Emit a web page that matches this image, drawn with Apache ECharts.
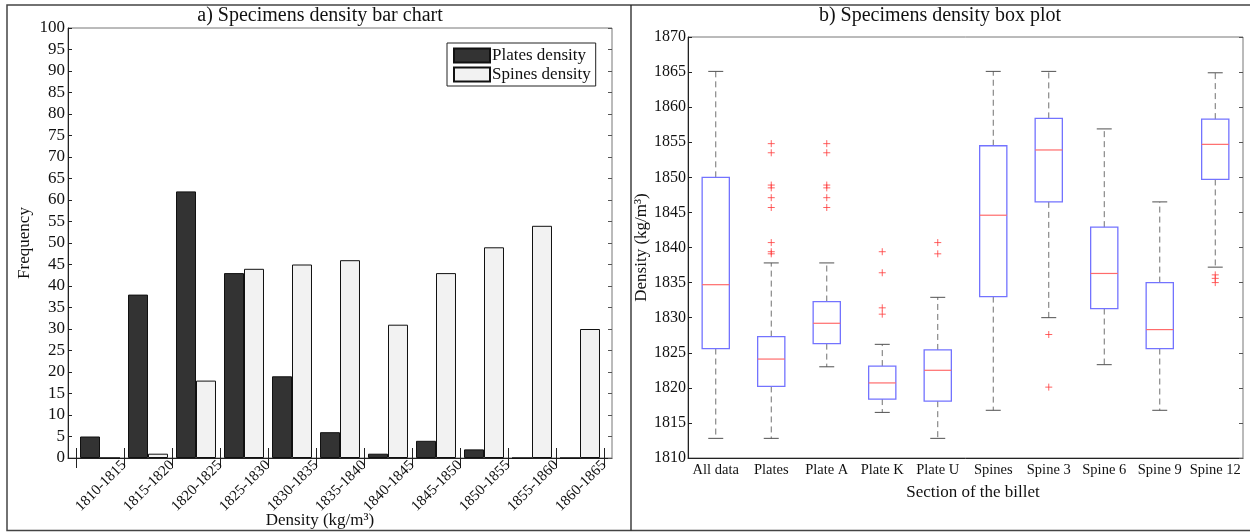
<!DOCTYPE html>
<html><head><meta charset="utf-8">
<script src="https://cdn.jsdelivr.net/npm/echarts@6/dist/echarts.min.js"></script>
<style>html,body{margin:0;padding:0;background:#fff}#c{width:1250px;height:532px}</style>
</head><body><div id="c"></div>
<script>
// ---- Data: a) bar chart ----
const densityBins = ['1810-1815','1815-1820','1820-1825','1825-1830','1830-1835','1835-1840','1840-1845','1845-1850','1850-1855','1855-1860','1860-1865'];
const platesDensity = [5, 38, 62, 43, 19, 6, 1, 4, 2, 0, 0];
const spinesDensity = [0, 1, 18, 44, 45, 46, 31, 43, 49, 54, 30];
const freqMin = 0, freqMax = 100, freqStep = 5;

// ---- Data: b) box plot ----
const sections = ['All data','Plates','Plate A','Plate K','Plate U','Spines','Spine 3','Spine 6','Spine 9','Spine 12'];
const whiskerLow  = [1812.8, 1812.8, 1823.0, 1816.5, 1812.8, 1816.8, 1830.0, 1823.3, 1816.8, 1837.2];
const quartile1   = [1825.6, 1820.2, 1826.3, 1818.4, 1818.1, 1833.0, 1846.5, 1831.3, 1825.6, 1849.7];
const medians     = [1834.7, 1824.1, 1829.2, 1820.7, 1822.5, 1844.6, 1853.9, 1836.3, 1828.3, 1854.7];
const quartile3   = [1850.0, 1827.3, 1832.3, 1823.1, 1825.4, 1854.5, 1858.4, 1842.9, 1835.0, 1858.3];
const whiskerHigh = [1865.1, 1837.8, 1837.8, 1826.2, 1832.9, 1865.1, 1865.1, 1856.9, 1846.5, 1864.9];
const outlierValues = [
  [],
  [1854.8, 1853.5, 1848.9, 1848.5, 1847.1, 1845.7, 1840.7, 1839.4, 1839.1],
  [1854.8, 1853.5, 1848.9, 1848.5, 1847.1, 1845.7],
  [1839.4, 1836.4, 1831.4, 1830.5],
  [1840.7, 1839.1],
  [],
  [1827.6, 1820.1],
  [],
  [],
  [1836.1, 1835.6, 1835.0]
];
const densMin = 1810, densMax = 1870, densStep = 5;

const FONT = "'Liberation Serif','DejaVu Serif',serif";
const boxData = sections.map((s, i) => [i, whiskerLow[i], quartile1[i], medians[i], quartile3[i], whiskerHigh[i]]);
const outlierData = [];
outlierValues.forEach((arr, i) => arr.forEach(v => outlierData.push([i, v])));

function renderBox(params, api) {
  const idx = api.value(0);
  const pLow = api.coord([idx, api.value(1)]);
  const pQ1 = api.coord([idx, api.value(2)]);
  const pMed = api.coord([idx, api.value(3)]);
  const pQ3 = api.coord([idx, api.value(4)]);
  const pHigh = api.coord([idx, api.value(5)]);
  const band = api.size([1, 0])[0];
  const hw = band * 0.245, cw = band * 0.135;
  const x = pMed[0];
  const dash = {stroke: '#707070', lineWidth: 1, lineDash: [6, 4], fill: null};
  const cap = {stroke: '#505050', lineWidth: 1, fill: null};
  return {type: 'group', children: [
    {type: 'line', shape: {x1: x, y1: pQ3[1], x2: x, y2: pHigh[1]}, style: dash},
    {type: 'line', shape: {x1: x, y1: pQ1[1], x2: x, y2: pLow[1]}, style: dash},
    {type: 'line', shape: {x1: x - cw, y1: pHigh[1], x2: x + cw, y2: pHigh[1]}, style: cap},
    {type: 'line', shape: {x1: x - cw, y1: pLow[1], x2: x + cw, y2: pLow[1]}, style: cap},
    {type: 'rect', shape: {x: x - hw, y: pQ3[1], width: 2 * hw, height: pQ1[1] - pQ3[1]},
      style: {fill: 'none', stroke: '#7373ff', lineWidth: 1.3}},
    {type: 'line', shape: {x1: x - hw, y1: pMed[1], x2: x + hw, y2: pMed[1]},
      style: {stroke: '#ff6b6b', lineWidth: 1.2}}
  ]};
}

const chart = echarts.init(document.getElementById('c'));
const plain = v => String(v);
const labelStyle = {fontFamily: FONT, fontSize: 16, color: '#111', formatter: plain};
const option = {
  animation: false,
  textStyle: {fontFamily: FONT},
  grid: [
    {left: 68, top: 28, width: 544, height: 430, show: true, borderColor: '#777', borderWidth: 1, outerBoundsMode: 'none', containLabel: false},
    {left: 76, top: 28, width: 528, height: 430, outerBoundsMode: 'none', containLabel: false},
    {left: 688, top: 37, width: 555, height: 421, show: true, borderColor: '#777', borderWidth: 1, outerBoundsMode: 'none', containLabel: false}
  ],
  legend: {
    data: ['Plates density', 'Spines density'],
    orient: 'vertical', left: 447, top: 43,
    itemWidth: 36, itemHeight: 14, itemGap: 2,
    padding: [4, 5, 3, 6],
    borderColor: '#222', borderWidth: 1, backgroundColor: '#fff',
    icon: 'rect',
    textStyle: {fontFamily: FONT, fontSize: 17, color: '#111', padding: [0, 0, 0, -3]}
  },
  xAxis: [
    {gridIndex: 0, type: 'value', position: 'bottom', min: 0, max: 1, axisLine: {show: true, lineStyle: {color: '#222'}},
      axisTick: {show: false}, axisLabel: {show: false}, splitLine: {show: false}},
    {gridIndex: 1, type: 'category', position: 'bottom', data: densityBins, boundaryGap: true,
      axisLine: {show: false}, axisTick: {show: false}, axisLabel: {show: false}},
    {gridIndex: 1, type: 'category', position: 'bottom', data: [''].concat(densityBins), boundaryGap: false,
      axisLine: {show: false},
      axisTick: {show: true, inside: false, length: 10, interval: 0, lineStyle: {color: '#222'}},
      axisLabel: {show: true, interval: 0, rotate: 45, margin: 5, fontFamily: FONT, fontSize: 15, color: '#111'}},
    {gridIndex: 1, type: 'category', position: 'bottom', data: [''].concat(densityBins), boundaryGap: false,
      axisLine: {show: false},
      axisTick: {show: true, inside: true, length: 10, interval: 0, lineStyle: {color: '#222'}},
      axisLabel: {show: false}},
    {gridIndex: 2, type: 'category', position: 'bottom', data: sections, boundaryGap: true,
      axisLine: {show: true, lineStyle: {color: '#222'}}, axisTick: {show: false},
      axisLabel: {interval: 0, margin: 5, fontFamily: FONT, fontSize: 14.5, color: '#111'}}
  ],
  yAxis: [
    {gridIndex: 0, type: 'value', position: 'left', min: freqMin, max: freqMax, interval: freqStep,
      axisLine: {show: true, lineStyle: {color: '#222'}},
      axisTick: {show: true, inside: true, length: 4, lineStyle: {color: '#222'}},
      axisLabel: Object.assign({margin: 3}, labelStyle, {fontSize: 17}), splitLine: {show: false},
      name: 'Frequency', nameLocation: 'middle', nameGap: 35,
      nameTextStyle: {fontFamily: FONT, fontSize: 17, color: '#111'}},
    {gridIndex: 0, type: 'value', position: 'right', min: freqMin, max: freqMax, interval: freqStep,
      axisLine: {show: false}, axisTick: {show: true, inside: true, length: 4, lineStyle: {color: '#555'}},
      axisLabel: {show: false}, splitLine: {show: false}},
    {gridIndex: 1, type: 'value', position: 'left', min: freqMin, max: freqMax, interval: freqStep,
      axisLine: {show: false}, axisTick: {show: false}, axisLabel: {show: false}, splitLine: {show: false}},
    {gridIndex: 2, type: 'value', position: 'left', min: densMin, max: densMax, interval: densStep,
      axisLine: {show: true, lineStyle: {color: '#222'}},
      axisTick: {show: true, inside: true, length: 4, lineStyle: {color: '#222'}},
      axisLabel: Object.assign({margin: 2}, labelStyle), splitLine: {show: false},
      name: 'Density (kg/m³)', nameLocation: 'middle', nameGap: 36,
      nameTextStyle: {fontFamily: FONT, fontSize: 17, color: '#111'}},
    {gridIndex: 2, type: 'value', position: 'right', min: densMin, max: densMax, interval: densStep,
      axisLine: {show: false}, axisTick: {show: true, inside: true, length: 4, lineStyle: {color: '#555'}},
      axisLabel: {show: false}, splitLine: {show: false}}
  ],
  series: [
    {name: 'Plates density', type: 'bar', xAxisIndex: 1, yAxisIndex: 2, data: platesDensity,
      barGap: '0%', barCategoryGap: '16.7%',
      itemStyle: {color: '#333333', borderColor: '#111', borderWidth: 1}},
    {name: 'Spines density', type: 'bar', xAxisIndex: 1, yAxisIndex: 2, data: spinesDensity,
      barGap: '0%', barCategoryGap: '16.7%',
      itemStyle: {color: '#f2f2f2', borderColor: '#111', borderWidth: 1}},
    {name: 'box', type: 'custom', xAxisIndex: 4, yAxisIndex: 3, data: boxData,
      encode: {x: 0, y: [1, 2, 3, 4, 5]}, renderItem: renderBox, z: 3},
    {name: 'outliers', type: 'scatter', xAxisIndex: 4, yAxisIndex: 3, data: outlierData,
      symbol: 'path://M5,0L5,10M0,5L10,5', symbolSize: 7,
      itemStyle: {color: 'none', borderColor: '#ff3b3b', borderWidth: 1}, z: 4}
  ],
  graphic: [
    {type: 'polyline', shape: {points: [[1250, 5], [7, 5], [7, 530.5], [1250, 530.5]]},
      style: {stroke: '#444', lineWidth: 1.5, fill: null}, silent: true},
    {type: 'line', shape: {x1: 631, y1: 5, x2: 631, y2: 530.5},
      style: {stroke: '#222', lineWidth: 1.3}, silent: true},
    {type: 'text', x: 320, y: 16, silent: true,
      style: {text: 'a) Specimens density bar chart', fontFamily: FONT, fontSize: 20, fill: '#111', align: 'center', verticalAlign: 'middle'}},
    {type: 'text', x: 940, y: 16, silent: true,
      style: {text: 'b) Specimens density box plot', fontFamily: FONT, fontSize: 20, fill: '#111', align: 'center', verticalAlign: 'middle'}},
    {type: 'text', x: 320, y: 521, silent: true,
      style: {text: 'Density (kg/m³)', fontFamily: FONT, fontSize: 17, fill: '#111', align: 'center', verticalAlign: 'middle'}},
    {type: 'text', x: 973, y: 493, silent: true,
      style: {text: 'Section of the billet', fontFamily: FONT, fontSize: 17, fill: '#111', align: 'center', verticalAlign: 'middle'}}
  ]
};
chart.setOption(option);
</script>
</body></html>
